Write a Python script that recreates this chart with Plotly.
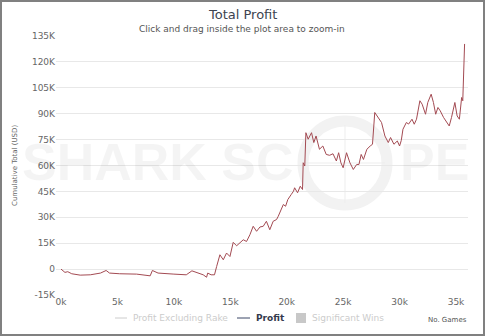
import plotly.graph_objects as go

# ---- data ----
games_k = [0, 0.35, 0.6, 0.95, 1.7, 2.6, 3.5, 4.0, 4.3, 5.2, 6.7, 7.6, 7.9, 8.1, 8.6, 10.0, 11.1, 11.6, 12.0,
           12.6, 12.9, 13.0, 13.3, 13.6, 13.79, 14.08, 14.38, 14.67, 14.97, 15.26, 15.56, 15.85, 16.15, 16.44,
           16.74, 17.03, 17.33, 17.63, 17.92, 18.2, 18.5, 18.8, 19.1, 19.25, 19.5, 19.7, 19.9, 20.1, 20.4,
           20.6, 20.7, 20.96, 21.2, 21.4, 21.46, 21.6, 21.7, 21.9, 22.2, 22.4, 22.6, 22.9, 23.2, 23.5, 23.8,
           24.1, 24.4, 24.6, 24.8, 25.0, 25.3, 25.6, 25.9, 26.2, 26.4, 26.6, 26.8, 27.1, 27.4, 27.6, 27.8,
           28.1, 28.4, 28.7, 29.0, 29.2, 29.5, 29.8, 30.0, 30.15, 30.3, 30.6, 30.8, 31.1, 31.3, 31.5, 31.8,
           32.0, 32.3, 32.5, 32.8, 33.0, 33.2, 33.4, 33.6, 33.9, 34.2, 34.4, 34.6, 34.9, 35.1, 35.3, 35.5,
           35.6, 35.76]
profit_k = [0, -1.9, -1.5, -2.7, -3.5, -3.3, -2.3, -0.8, -2.3, -2.7, -2.9, -3.9, -3.9, -0.8, -2.3, -2.9, -3.3,
            -1.0, -1.9, -3.3, -4.7, -2.3, -3.3, -3.3, 1.5, 8.3, 5.4, 9.3, 7.3, 15.5, 13.5, 15.1, 17.0, 16.0,
            19.9, 24.8, 21.9, 24.4, 24.8, 27.7, 22.8, 27.7, 28.7, 30.6, 34.5, 37.4, 36.4, 40.3, 43.2,
            45.1, 47.1, 44.2, 48.0, 46.1, 61.6, 59.7, 79.0, 75.2, 79.0, 73.3, 77.1, 69.4, 71.3, 66.4, 65.9,
            66.8, 62.6, 67.4, 61.6, 58.7, 67.4, 61.6, 57.7, 60.6, 60.6, 66.4, 63.5, 69.4, 71.3, 72.3, 90.7,
            87.8, 84.9, 77.1, 73.3, 76.2, 72.3, 74.2, 71.3, 74.5, 81.0, 84.9, 84.0, 86.8, 83.9, 86.8, 97.5,
            95.5, 89.7, 96.5, 101.3, 96.5, 89.7, 93.6, 91.7, 87.8, 84.9, 82.9, 87.8, 96.5, 88.7, 86.8, 99.4,
            97.5, 130.4]

x_vals = [g * 1000 for g in games_k]
y_vals = [p * 1000 for p in profit_k]

x_tickvals = [0, 5000, 10000, 15000, 20000, 25000, 30000, 35000]
x_ticktext = ["0k", "5k", "10k", "15k", "20k", "25k", "30k", "35k"]
y_tickvals = [-15000, 0, 15000, 30000, 45000, 60000, 75000, 90000, 105000, 120000, 135000]
y_ticktext = ["-15K", "0", "15K", "30K", "45K", "60K", "75K", "90K", "105K", "120K", "135K"]

legend_names = ["Profit Excluding Rake", "Profit", "Significant Wins"]

# ---- layout helpers ----
W, H = 485, 336
L, R, T, B = 56, 17, 36, 41
PW, PH = W - L - R, H - T - B
FONT = "DejaVu Sans"


def px(x):
    return (x - L) / PW


def py(y):
    return (H - B - y) / PH


fig = go.Figure()
fig.add_trace(go.Scatter(x=x_vals, y=y_vals, mode="lines",
                         line=dict(color="#a34a52", width=1), showlegend=False,
                         hoverinfo="x+y"))

shapes = []
annotations = []

# watermark
wm = "rgba(0,0,0,0.045)"
annotations.append(dict(text="<b>SHARK SC</b>", x=px(20), y=py(162), xref="paper", yref="paper",
                        xanchor="left", yanchor="middle", showarrow=False,
                        font=dict(family="Liberation Sans", size=52, color=wm)))
annotations.append(dict(text="<b>PE</b>", x=px(398), y=py(162), xref="paper", yref="paper",
                        xanchor="left", yanchor="middle", showarrow=False,
                        font=dict(family="Liberation Sans", size=52, color=wm)))
shapes.append(dict(type="circle", xref="paper", yref="paper", layer="below",
                   x0=px(345 - 42), x1=px(345 + 42), y0=py(163 + 42), y1=py(163 - 42),
                   line=dict(color="#f2f2f2", width=11)))
shapes.append(dict(type="line", xref="paper", yref="paper", layer="below",
                   x0=px(345), x1=px(345), y0=py(125), y1=py(203),
                   line=dict(color="#ededed", width=1)))
shapes.append(dict(type="line", xref="paper", yref="paper", layer="below",
                   x0=px(305), x1=px(385), y0=py(163), y1=py(163),
                   line=dict(color="#ededed", width=1)))

# titles
annotations.append(dict(text="Total Profit", x=px(242), y=py(15), xref="paper", yref="paper",
                        xanchor="center", yanchor="middle", showarrow=False,
                        font=dict(family=FONT, size=13, color="#3d4450")))
annotations.append(dict(text="Click and drag inside the plot area to zoom-in", x=px(242), y=py(29),
                        xref="paper", yref="paper", xanchor="center", yanchor="middle", showarrow=False,
                        font=dict(family=FONT, size=9, color="#555")))
annotations.append(dict(text="Cumulative Total (USD)", x=px(15), y=py(166), xref="paper", yref="paper",
                        xanchor="center", yanchor="middle", showarrow=False, textangle=-90,
                        font=dict(family=FONT, size=7, color="#666")))
annotations.append(dict(text="No. Games", x=px(469), y=py(320), xref="paper", yref="paper",
                        xanchor="right", yanchor="middle", showarrow=False,
                        font=dict(family=FONT, size=7, color="#555")))

# legend
ly = 318
shapes.append(dict(type="line", xref="paper", yref="paper", x0=px(115), x1=px(127), y0=py(ly), y1=py(ly),
                   line=dict(color="#cccccc", width=1)))
annotations.append(dict(text=legend_names[0], x=px(131), y=py(ly), xref="paper", yref="paper",
                        xanchor="left", yanchor="middle", showarrow=False,
                        font=dict(family=FONT, size=9, color="#cccccc")))
shapes.append(dict(type="line", xref="paper", yref="paper", x0=px(237), x1=px(250), y0=py(ly), y1=py(ly),
                   line=dict(color="#3a4766", width=1)))
annotations.append(dict(text="<b>" + legend_names[1] + "</b>", x=px(254), y=py(ly), xref="paper",
                        yref="paper", xanchor="left", yanchor="middle", showarrow=False,
                        font=dict(family=FONT, size=9, color="#333a4d")))
shapes.append(dict(type="rect", xref="paper", yref="paper", x0=px(296), x1=px(306), y0=py(323), y1=py(313),
                   line=dict(width=0), fillcolor="#c8c8c8"))
annotations.append(dict(text=legend_names[2], x=px(310), y=py(ly), xref="paper", yref="paper",
                        xanchor="left", yanchor="middle", showarrow=False,
                        font=dict(family=FONT, size=9, color="#cccccc")))

# frame
shapes.append(dict(type="rect", xref="paper", yref="paper", x0=px(1), x1=px(484), y0=py(335), y1=py(1),
                   line=dict(color="#808080", width=2)))

fig.update_layout(
    width=W, height=H, margin=dict(l=L, r=R, t=T, b=B),
    paper_bgcolor="white", plot_bgcolor="white",
    showlegend=False, shapes=shapes, annotations=annotations,
    xaxis=dict(range=[-443, 36063], tickvals=x_tickvals, ticktext=x_ticktext, showgrid=False,
               zeroline=False, showline=False, ticks="",
               tickfont=dict(family=FONT, size=9, color="#666")),
    yaxis=dict(range=[-15000, 135000], tickvals=y_tickvals, ticktext=y_ticktext, showgrid=True,
               gridcolor="#e8e8e8", gridwidth=1, zeroline=False, showline=False, ticks="",
               tickfont=dict(family=FONT, size=9, color="#666")),
)

fig.write_html("out.html")
